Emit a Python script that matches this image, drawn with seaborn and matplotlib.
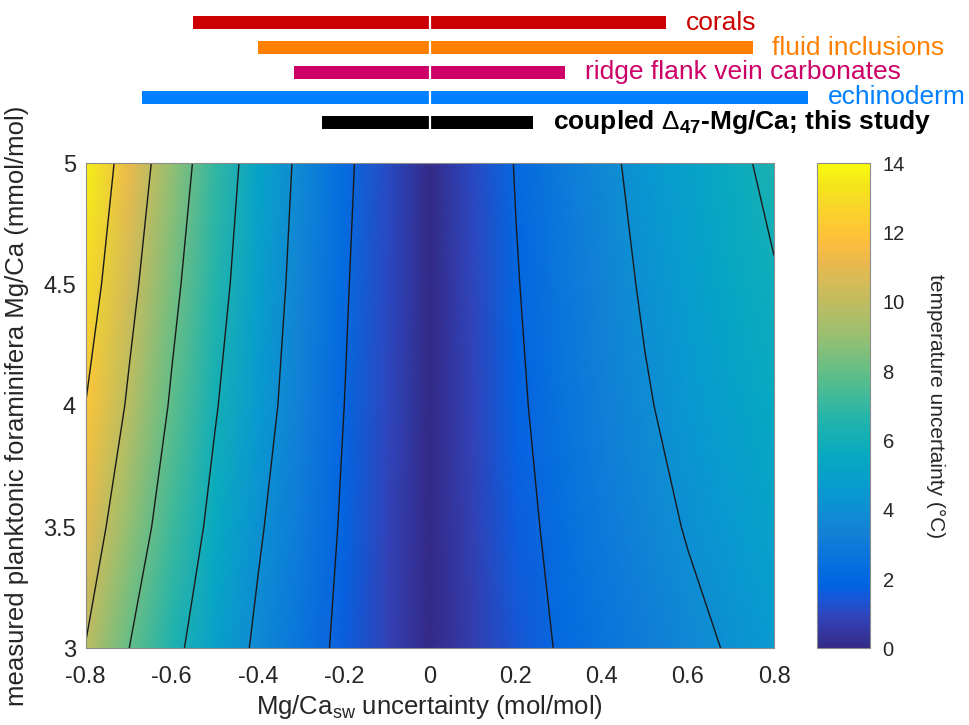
import matplotlib
matplotlib.use("Agg")
import numpy as np
import pandas as pd
import matplotlib.pyplot as plt
import seaborn as sns
from matplotlib.colors import LinearSegmentedColormap

# grid axes: Mg/Ca_sw uncertainty (mol/mol) and measured foram Mg/Ca (mmol/mol)
mgca_sw_unc = [-0.8, -0.7, -0.6, -0.5, -0.4, -0.3, -0.2, -0.1, 0.0,
               0.1, 0.2, 0.3, 0.4, 0.5, 0.6, 0.7, 0.8]
mgca_meas = [3.0, 3.5, 4.0, 4.5, 5.0]

# temperature uncertainty (degC), one row per measured Mg/Ca value
unc_at_3p0 = [9.95, 8.02, 6.41, 5.02, 3.75, 2.66, 1.67, 0.83, 0.0,
              0.71, 1.41, 2.09, 2.60, 3.11, 3.62, 4.12, 4.56]
unc_at_3p5 = [10.95, 8.95, 7.17, 5.59, 4.18, 2.98, 1.84, 0.92, 0.0,
              0.81, 1.61, 2.31, 2.91, 3.51, 4.09, 4.58, 5.07]
unc_at_4p0 = [11.98, 9.80, 7.83, 6.12, 4.63, 3.28, 2.01, 1.01, 0.0,
              0.89, 1.79, 2.52, 3.20, 3.88, 4.45, 4.99, 5.53]
unc_at_4p5 = [12.88, 10.49, 8.39, 6.58, 4.96, 3.49, 2.14, 1.05, 0.0,
              0.97, 1.93, 2.69, 3.44, 4.15, 4.76, 5.36, 5.90]
unc_at_5p0 = [13.64, 11.16, 8.95, 6.98, 5.24, 3.68, 2.29, 1.12, 0.0,
              1.04, 2.06, 2.87, 3.68, 4.39, 5.03, 5.68, 6.32]
contour_levels = [2, 4, 6, 8, 10, 12]

xticks = [-0.8, -0.6, -0.4, -0.2, 0, 0.2, 0.4, 0.6, 0.8]
xtick_labels = ["-0.8", "-0.6", "-0.4", "-0.2", "0", "0.2", "0.4", "0.6", "0.8"]
yticks = [3, 3.5, 4, 4.5, 5]
ytick_labels = ["3", "3.5", "4", "4.5", "5"]

# Mg/Ca_sw uncertainty ranges of the different archives
archives = ["corals", "fluid inclusions", "ridge flank vein carbonates",
            "echinoderm", r"coupled $\Delta_{\mathbf{47}}$-Mg/Ca; this study"]
unc_low = [-0.55, -0.40, -0.315, -0.67, -0.25]
unc_high = [0.55, 0.75, 0.315, 0.88, 0.24]
archive_colors = ["#cc0000", "#ff8000", "#cc0066", "#0080ff", "#000000"]

# matlab parula (subset of the 64 entry table)
parula = LinearSegmentedColormap.from_list("parula", [
    (0 / 63, (0.2081, 0.1663, 0.5292)),
    (4 / 63, (0.1959, 0.2645, 0.7279)),
    (7 / 63, (0.0591, 0.3598, 0.8683)),
    (8 / 63, (0.0117, 0.3875, 0.8820)),
    (10 / 63, (0.0165, 0.4266, 0.8786)),
    (15 / 63, (0.0779, 0.5040, 0.8384)),
    (20 / 63, (0.0343, 0.5966, 0.8199)),
    (25 / 63, (0.0267, 0.6642, 0.7607)),
    (30 / 63, (0.1453, 0.7098, 0.6646)),
    (35 / 63, (0.3482, 0.7424, 0.5473)),
    (40 / 63, (0.5709, 0.7485, 0.4494)),
    (45 / 63, (0.7525, 0.7384, 0.3768)),
    (50 / 63, (0.9139, 0.7258, 0.3063)),
    (53 / 63, (0.9938, 0.7455, 0.2403)),
    (56 / 63, (0.9880, 0.8066, 0.1794)),
    (60 / 63, (0.9589, 0.8949, 0.1132)),
    (63 / 63, (0.9763, 0.9831, 0.0538)),
])

sns.set_theme(style="white")
plt.rcParams["font.family"] = ["Liberation Sans", "DejaVu Sans"]
plt.rcParams["mathtext.fontset"] = "custom"
plt.rcParams["mathtext.rm"] = "Liberation Sans"
plt.rcParams["mathtext.it"] = "Liberation Sans:italic"
plt.rcParams["mathtext.bf"] = "Liberation Sans:bold"
plt.rcParams["axes.unicode_minus"] = False

txt_col = "#262626"
edge_col = "#8c8c8c"

fig = plt.figure(figsize=(9.69, 7.25), dpi=100)

# main map
ax = fig.add_axes([0.0884, 0.1058, 0.7104, 0.6690])
X, Y = np.meshgrid(mgca_sw_unc, mgca_meas)
Z = np.array([unc_at_3p0, unc_at_3p5, unc_at_4p0, unc_at_4p5, unc_at_5p0])
mesh = ax.pcolormesh(X, Y, Z, shading="gouraud", cmap=parula, vmin=0, vmax=14)
ax.contour(X, Y, Z, levels=contour_levels, colors="k", linewidths=1.0)
ax.set_xlim(-0.8, 0.8)
ax.set_ylim(3, 5)
ax.set_xticks(xticks)
ax.set_xticklabels(xtick_labels)
ax.set_yticks(yticks)
ax.set_yticklabels(ytick_labels)
ax.tick_params(length=0, labelsize=17, colors=txt_col)
ax.tick_params(axis="x", pad=13)
ax.tick_params(axis="y", pad=7)
for s in ax.spines.values():
    s.set_color(edge_col)
    s.set_linewidth(0.8)
ax.set_xlabel(r"Mg/Ca$_{\rm sw}$ uncertainty (mol/mol)", fontsize=18.5,
              color=txt_col, labelpad=3)
ax.set_ylabel("measured planktonic foraminifera Mg/Ca (mmol/mol)", fontsize=18.5,
              color=txt_col, labelpad=10)

# colorbar
cax = fig.add_axes([817 / 969, 0.1058, 53 / 969, 0.6690])
cb = fig.colorbar(mesh, cax=cax, ticks=range(0, 15, 2))
cb.ax.tick_params(direction="in", length=6, width=0.8, color=edge_col,
                  labelsize=14.5, labelcolor=txt_col, pad=9)
cb.outline.set_edgecolor(edge_col)
cb.outline.set_linewidth(0.8)
cb.set_label("temperature uncertainty (°C)", rotation=270, fontsize=15,
             color=txt_col, labelpad=29)

# archive ranges on top
ax_top = fig.add_axes([0.0884, 0.8109, 0.7104, 0.1783])
df = pd.DataFrame({"archive": archives, "low": unc_low, "high": unc_high})
for col in ["low", "high"]:
    sns.barplot(data=df, y="archive", x=col, hue="archive", palette=archive_colors,
                orient="h", width=0.52, saturation=1, legend=False,
                edgecolor="none", linewidth=0, ax=ax_top)
for p in ax_top.patches:
    p.set_clip_on(False)
ax_top.axvline(0, color="white", lw=1.6)
for i, (name, hi, c) in enumerate(zip(archives, unc_high, archive_colors)):
    bold = c == "#000000"
    ax_top.annotate(name, xy=(hi, i), xytext=(14, 0), textcoords="offset points",
                    ha="left", va="center", color=c, fontsize=19,
                    fontweight="bold" if bold else "normal", annotation_clip=False)
ax_top.set_xlim(-0.8, 0.8)
ax_top.set_ylim(4.6, -0.6)
ax_top.axis("off")

fig.savefig("out.png", dpi=100)
